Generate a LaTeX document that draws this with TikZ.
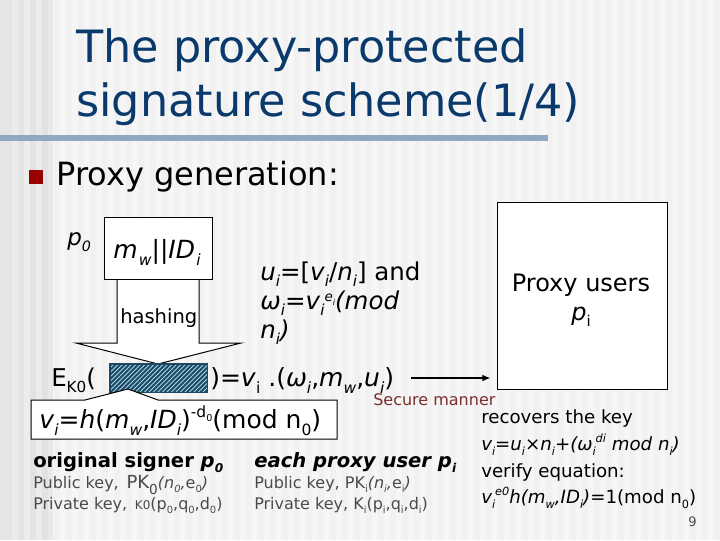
\documentclass[tikz,border=0pt]{standalone}
\usepackage{fontspec}
\setmainfont{DejaVu Sans}
\usetikzlibrary{arrows.meta}
\newcommand{\pxf}[1]{\fontsize{\dimexpr#1pt*3/4\relax}{\dimexpr#1pt*9/10\relax}\selectfont}
\newcommand{\dn}[1]{\raisebox{-0.28em}{\scalebox{0.62}{#1}}}
\newcommand{\upp}[1]{\raisebox{0.42em}{\scalebox{0.62}{#1}}}
\newcommand{\ii}[1]{\textit{#1}}
\definecolor{titleblue}{HTML}{0A3A6B}
\definecolor{rulecol}{HTML}{8FA8C4}
\definecolor{bulletred}{HTML}{990000}
\definecolor{keygrey}{HTML}{4A4A4A}
\definecolor{securered}{HTML}{7A2E2E}
\definecolor{hatchdark}{HTML}{1C4A66}
\definecolor{hatchlight}{HTML}{A8D4E4}
\tikzset{
  txt/.style={inner sep=0pt,anchor=base west,align=left},
  frame/.style={draw=black,fill=white,line width=0.75pt},
  title/.style={txt,text=titleblue,font=\pxf{44.5}},
  body/.style={txt,font=\pxf{24.5}},
  small/.style={txt,font=\pxf{18.2}},
  head/.style={txt,font=\pxf{19.6}\bfseries},
  keyline/.style={txt,text=keygrey,font=\pxf{16}}
}
\begin{document}
\begin{tikzpicture}[x=0.75pt,y=-0.75pt]
\useasboundingbox (0,0) rectangle (720,540);
% background stripes
\fill[white!96.5!black] (0,0) rectangle (720,540);
\foreach \a in {54,66,78,90,102,114,126,138,150,162,174,186,198,210,222,234,246,258,270,282,294,306,318,330,342,354,366,378,390,402,414,426,438,450,462,474,486,498,510,522,534,546,558,570,582,594,606,618,630,642,654,666,678,690,702,714}
  \fill[white!94.5!black] (\a,0) rectangle ++(6,540);
\foreach \a/\w/\g in {0/12/90,12/6/92.5,18/6/89.5,24/6/93,30/6/89,36/6/92,42/6/88.5,48/5/91.5}
  \fill[white!\g!black] (\a,0) rectangle ++(\w,540);
% title
\node[title] (t1) at (76,62) {The proxy-protected};
\node[title] (t2) at (76,116) {signature scheme(1/4)};
\fill[rulecol] (0,135) rectangle (548,141);
\fill[bulletred] (29,170) rectangle (43,184);
\node[txt,font=\pxf{32}] (gen) at (56,185) {Proxy generation:};
% big arrow
\draw[frame] (117,279) -- (117,343) -- (76,343) -- (158,364) -- (241,343) -- (199,343) -- (199,279);
\node[frame,inner sep=0pt,minimum width=108pt*3/4,minimum height=62pt*3/4,anchor=north west] (msg) at (104,217) {};
\node[txt,font=\pxf{23}] (p0) at (67,245) {\ii{p}\dn{\ii{0}}};
\node[txt,font=\pxf{25}] (mw) at (113,258) {\ii{m}\kern1pt\dn{\ii{w}}||\ii{ID}\kern1pt\dn{\ii{i}}};
\node[txt,font=\pxf{19.5}] (hash) at (120,323) {hashing};
% hatched rectangle
\node[fill=hatchdark,inner sep=0pt,minimum width=97pt*3/4,minimum height=28pt*3/4,anchor=north west] (enc) at (110,364) {};
\begin{scope}
  \clip (110,364) rectangle (207,392);
  \foreach \a in {100,104.5,...,245}
    \draw[hatchlight,line width=0.7pt] (\a,360) -- ++(-36,36);
\end{scope}
\draw[hatchdark,line width=0.9pt] (enc.north west) rectangle (enc.south east);
% callout
\draw[frame] (85,400) -- (128,389) -- (158,400) -- (337,400) -- (337,439) -- (31,439) -- (31,400) -- cycle;
\node[txt,font=\pxf{25}] (vi) at (39,428) {\ii{v}\dn{\ii{i}}=\ii{h}(\ii{m}\dn{\ii{w}},\ii{ID}\dn{\ii{i}})\upp{-d\dn{0}}(mod n\dn{0})};
% formulas
\node[body] (ui) at (260,280) {\ii{u}\dn{\ii{i}}=[\ii{v}\dn{\ii{i}}/\ii{n}\dn{\ii{i}}] and};
\node[body] (omega) at (260,309) {\ii{ω}\dn{\ii{i}}=\ii{v}\dn{\ii{i}}\raisebox{0.3em}{\scalebox{0.55}{\ii{e}\dn{\ii{i}}}}\ii{(mod}};
\node[body] (ni) at (260,338) {\ii{n}\dn{\ii{i}}\ii{)}};
% proxy box
\node[frame,inner sep=0pt,minimum width=170pt*3/4,minimum height=187pt*3/4,anchor=north west] (proxy) at (497,202) {};
\node[txt,anchor=base,font=\pxf{24}] (pu) at (581,291) {Proxy users};
\node[txt,anchor=base,font=\pxf{24}] (pi) at (581,320) {\ii{p}\dn{i}};
% encryption line
\node[body] (ek) at (51,386) {E\dn{K0}(};
\node[txt,font=\pxf{25}] (eq) at (210,386) {)=\ii{v}\dn{i} .(\ii{ω}\dn{\ii{i}},\ii{m}\dn{\ii{w}},\ii{u}\dn{\ii{i}})};
\coordinate (astart) at (411,378);
\draw[-{Latex[length=6pt,width=5pt]},line width=0.9pt,shorten >=5pt] (astart) -- (proxy.west |- astart);
\node[txt,text=securered,font=\pxf{16}] (sec) at (373,405) {Secure manner};
% keys
\node[head] (os) at (33,467) {original signer \ii{p}\dn{\ii{0}}};
\node[keyline] (pk0) at (33,488) {Public key, \kern2pt{\pxf{18}PK}{\pxf{22}\dn{0}}\ii{(n\dn{0},}e\dn{0}\ii{)}};
\node[keyline] (sk0) at (33,509) {Private key, \kern2pt{\pxf{12}K0}(p\dn{0},q\dn{0},d\dn{0})};
\node[head] (ep) at (254,467) {\ii{each proxy user p}\dn{\ii{i}}};
\node[keyline] (pki) at (254,488) {Public key, PK\dn{i}\ii{(n\dn{i},}e\dn{i}\ii{)}};
\node[keyline] (ski) at (254,509) {Private key, K\dn{i}(p\dn{i},q\dn{i},d\dn{i})};
% right column
\node[small] (rec) at (481,423) {recovers the key};
\node[small] (viu) at (481,450) {\ii{v\dn{i}=u\dn{i}×n\dn{i}+(ω\dn{i}\upp{di} mod n\dn{i})}};
\node[small] (ver) at (481,477) {verify equation:};
\node[small] (vie) at (481,503) {\ii{v\dn{i}\upp{e0}h(m\dn{w},ID\dn{i})}=1(mod n\dn{0})};
\node[txt,text=keygrey,font=\pxf{13}] (num) at (688,526) {9};
\end{tikzpicture}
\end{document}
